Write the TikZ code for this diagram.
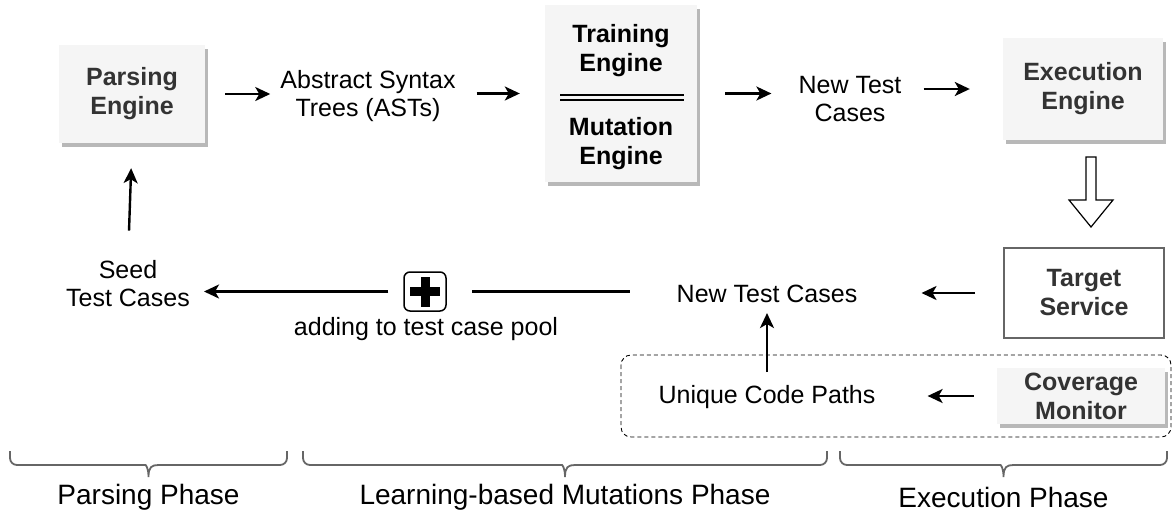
\documentclass[tikz,border=0pt]{standalone}
\usepackage{fontspec}
\setmainfont{Liberation Sans}
\usetikzlibrary{arrows.meta,shadows}
\definecolor{boxfill}{HTML}{F5F5F5}
\definecolor{shgray}{HTML}{B8B8B8}
\definecolor{txtdark}{HTML}{333333}
\definecolor{brgray}{HTML}{666666}
\newcommand\phbrace[3]{%
  \draw[brc] (#1,451) [rounded corners=7pt] -- (#1,465) -- (#3-10,465) [sharp corners]
    .. controls (#3-3,465) and (#3,467) .. (#3,477)
    .. controls (#3,467) and (#3+3,465) .. (#3+10,465) [rounded corners=7pt] -- (#2,465) -- (#2,451);
}
\begin{document}
\begin{tikzpicture}[x=1pt,y=-1pt,
  every node/.style={font=\fontsize{25}{28}\selectfont, inner sep=0pt, align=center},
  engbox/.style={fill=boxfill, draw=none, text=txtdark,
    font=\fontsize{25}{29}\selectfont\bfseries,
    drop shadow={shadow xshift=3pt,shadow yshift=-4pt,fill=shgray,opacity=1}},
  boldtxt/.style={font=\fontsize{25}{29}\selectfont\bfseries},
  phase/.style={font=\fontsize{28}{32}\selectfont},
  arr/.style={line width=2.4pt, -{Stealth[length=15pt,width=14pt,inset=4pt]}},
  plainline/.style={line width=2.4pt},
  brc/.style={draw=brgray, line width=1.8pt},
  dashbox/.style={draw=black, line width=0.9pt, dash pattern=on 4pt off 3pt, rounded corners=10pt},
]
\useasboundingbox (0,0) rectangle (1174,517);

% boxes
\node[engbox, minimum width=146pt, minimum height=98pt] (pe) at (132,94) {Parsing\\Engine};
\node (ast) at (368,96) {Abstract Syntax\\Trees (ASTs)};
\node[engbox, minimum width=152pt, minimum height=177pt] (tm) at (621,93.5) {};
\node[boldtxt] (tr) at (621,51) {Training\\Engine};
\node[boldtxt] (mu) at (621,144) {Mutation\\Engine};
\draw[line width=1.2pt] (560,95) -- (684,95) (560,100) -- (684,100);
\node (ntc1) at (850,99) {New Test\\Cases};
\node[engbox, minimum width=160pt, minimum height=102pt] (ee) at (1083,89) {Execution\\Engine};

% hollow block arrow
\draw[line width=1.2pt, fill=white] (1086,157) -- (1096,157) -- (1096,200) -- (1113,200) -- (1091,227) -- (1069,200) -- (1086,200) -- cycle;

\node[draw=brgray, line width=2pt, fill=white, text=txtdark, boldtxt,
  minimum width=160pt, minimum height=90pt] (ts) at (1084,293) {Target\\Service};
\node (ntc2) at (767,294) {New Test Cases};
\node (seed) at (128,284) {Seed\\Test Cases};

% plus icon
\node[draw=black, line width=1.5pt, rounded corners=6pt, minimum width=42pt, minimum height=39pt] (plus) at (425,291.5) {};
\fill (plus.center) ++(-15,-4.5) rectangle ++(30,9);
\fill (plus.center) ++(-4.5,-15) rectangle ++(9,30);
\node (pool) at (426,329) {adding to test case pool};

% dashed region
\draw[dashbox] (621,355) rectangle (1171,437);
\node (ucp) at (767,397) {Unique Code Paths};
\node[engbox, minimum width=168pt, minimum height=56pt] (cm) at (1081,396) {Coverage\\Monitor};

% connectors
\draw[arr, shorten <=20pt, shorten >=10pt] (pe.east) -- (pe.east -| ast.west);
\draw[arr, shorten <=21pt, shorten >=25pt] (ast.east |- tm.west) -- (tm.west);
\draw[arr, shorten <=28pt, shorten >=27pt] (tm.east) -- (tm.east -| ntc1.west);
\draw[arr, shorten <=22pt, shorten >=33pt] (ntc1.east |- ee.west) -- (ee.west);
\draw[arr, shorten <=30pt, shorten >=25pt] (seed.north) -- (pe.south);
\draw[plainline, shorten <=47pt, shorten >=25pt] (ntc2.west |- plus.east) -- (plus.east);
\draw[arr, shorten <=15pt, shorten >=14pt] (plus.west) -- (plus.west -| seed.east);
\draw[arr, shorten <=28pt, shorten >=64pt] (ts.west) -- (ts.west -| ntc2.east);
\draw[arr, shorten <=13pt, shorten >=10pt] (ucp.north) -- (ntc2.south);
\draw[arr, shorten <=23pt, shorten >=52pt] (cm.west) -- (cm.west -| ucp.east);

% phase braces
\phbrace{10}{287}{148.5}
\phbrace{303}{827}{565}
\phbrace{840}{1167}{1003.5}
\node[phase] (p1) at (148.5,497) {Parsing Phase};
\node[phase] (p2) at (565,497) {Learning-based Mutations Phase};
\node[phase] (p3) at (1003.5,497) {Execution Phase};
\end{tikzpicture}
\end{document}
